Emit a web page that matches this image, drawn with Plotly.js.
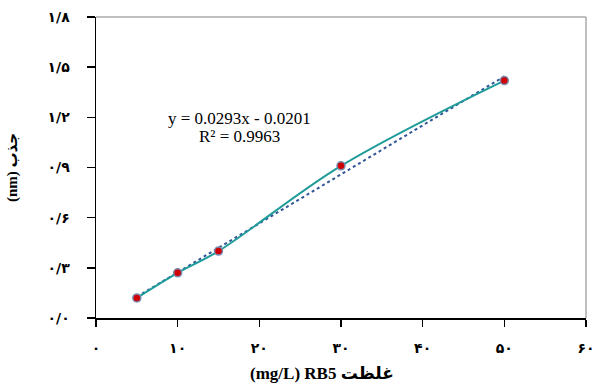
<!DOCTYPE html>
<html>
<head>
<meta charset="utf-8">
<script src="https://cdn.plot.ly/plotly-3.0.1.min.js"></script>
<style>html,body{margin:0;padding:0;background:#fff;}#chart{width:597px;height:383px;}</style>
</head>
<body>
<div id="chart"></div>
<script>
// Data
const concentration = [5, 10, 15, 30, 50];
const absorbance = [0.12, 0.27, 0.40, 0.91, 1.42];
// Trendline coefficients shown on the chart
const slope = 0.0293;
const intercept = -0.0201;
const trendX = [5, 50];
// Tick labels
const xTickVals = [0, 10, 20, 30, 40, 50, 60];
const xTickText = ['۰', '۱۰', '۲۰', '۳۰', '۴۰', '۵۰', '۶۰'];
const yTickVals = [0, 0.3, 0.6, 0.9, 1.2, 1.5, 1.8];
const yTickText = ['۰/۰', '۰/۳', '۰/۶', '۰/۹', '۱/۲', '۱/۵', '۱/۸'];
const equationText = 'y = 0.0293x - 0.0201';
const r2Text = 'R² = 0.9963';
const xTitleText = '(mg/L) RB5 غلظت';
const yTitleText = '(nm) جذب';

const trendY = trendX.map(x => slope * x + intercept);
const bold = arr => arr.map(t => '<b>' + t + '</b>');
const annFont = {size: 17, family: '"Liberation Serif", serif', color: '#000'};

const traces = [
  {
    x: trendX, y: trendY, mode: 'lines', type: 'scatter',
    line: {color: '#2f5597', width: 2, dash: 'dot'}, hoverinfo: 'skip'
  },
  {
    x: concentration, y: absorbance, mode: 'lines+markers', type: 'scatter',
    line: {color: '#1f9c9a', width: 2, shape: 'spline', smoothing: 1},
    marker: {color: '#d00000', size: 8, line: {color: '#7a8bb0', width: 1.5}}
  }
];

const layout = {
  width: 597, height: 383,
  margin: {l: 96, r: 11, t: 17, b: 65},
  paper_bgcolor: '#ffffff', plot_bgcolor: '#ffffff',
  showlegend: false,
  font: {family: '"DejaVu Sans", "Liberation Serif", serif', color: '#000'},
  xaxis: {
    range: [0, 60], tickvals: xTickVals, ticktext: bold(xTickText),
    showgrid: false, zeroline: false,
    showline: true, linecolor: '#000', linewidth: 1.5,
    ticks: 'outside', ticklen: 7, tickcolor: '#000', tickwidth: 1.5,
    ticklabelstandoff: 10,
    tickfont: {size: 14, family: '"DejaVu Sans", sans-serif', color: '#000'}
  },
  yaxis: {
    range: [0, 1.8], tickvals: yTickVals, ticktext: bold(yTickText),
    showgrid: false, zeroline: false,
    showline: true, linecolor: '#000', linewidth: 1.5,
    ticks: 'outside', ticklen: 8, tickcolor: '#000', tickwidth: 1.5,
    ticklabelstandoff: 14,
    tickfont: {size: 14, family: '"DejaVu Sans", sans-serif', color: '#000'},
    title: {text: '<b>' + yTitleText + '</b>', font: {size: 15, family: '"Liberation Serif", "DejaVu Sans", serif', color: '#000'}, standoff: 26}
  },
  shapes: [
    {type: 'line', xref: 'paper', yref: 'paper', x0: 0, x1: 1, y0: 1, y1: 1, line: {color: '#808080', width: 1}},
    {type: 'line', xref: 'paper', yref: 'paper', x0: 1, x1: 1, y0: 0, y1: 1, line: {color: '#808080', width: 1}}
  ],
  annotations: [
    {x: 17.6, y: 1.192, xref: 'x', yref: 'y', showarrow: false, text: equationText, font: annFont},
    {x: 17.6, y: 1.084, xref: 'x', yref: 'y', showarrow: false, text: r2Text, font: annFont},
    {x: 0.462, y: -0.183, xref: 'paper', yref: 'paper', xanchor: 'center', yanchor: 'middle',
     showarrow: false, text: '<b>' + xTitleText + '</b>',
     font: {size: 17, family: '"Liberation Serif", "DejaVu Sans", serif', color: '#000'}}
  ]
};

Plotly.newPlot('chart', traces, layout, {displayModeBar: false, staticPlot: true});
</script>
</body>
</html>
